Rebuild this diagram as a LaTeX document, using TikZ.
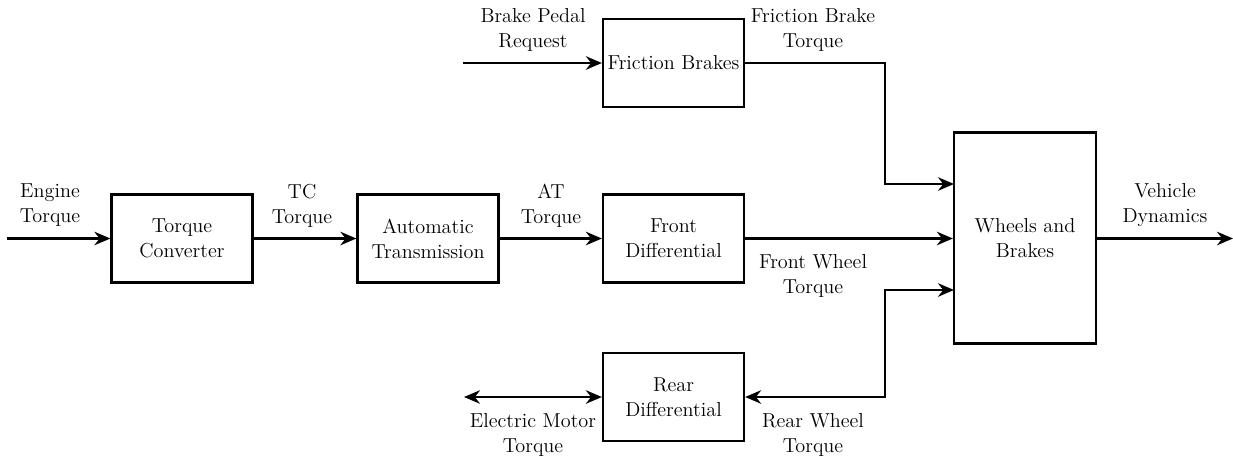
\documentclass[tikz,border=0pt]{standalone}
\usetikzlibrary{arrows.meta}

\begin{document}
\begin{tikzpicture}[x=0.02cm, y=-0.02cm,
  blk/.style={draw, line width=1.3pt, minimum width=2.82cm, minimum height=1.76cm,
              align=center, inner sep=0pt, font=\fontsize{11.5}{14.2}\selectfont},
  arr/.style={-{Stealth[length=0.32cm, width=0.27cm]}, line width=1.3pt},
  darr/.style={{Stealth[length=0.32cm, width=0.27cm]}-{Stealth[length=0.32cm, width=0.27cm]}, line width=1.3pt},
  lbl/.style={align=center, inner sep=0pt, font=\fontsize{11.5}{14.2}\selectfont},
]
\useasboundingbox (0,0) rectangle (1233,460);

% ---- Main drive line ----
\node[blk] (tc) at (182, 238.5) {Torque\\Converter};
\node[blk] (at) at (428, 238.5) {Automatic\\Transmission};
\node[blk] (fd) at (673.5, 238.5) {Front\\Differential};
\node[blk, minimum width=2.84cm, minimum height=4.22cm] (wb) at (1025, 238)
  {Wheels and\\Brakes};

% ---- Brakes and rear axle ----
\node[blk] (fb) at (673.5, 63) {Friction Brakes};
\node[blk] (rd) at (673.5, 397) {Rear\\Differential};

% ---- Free ends ----
\coordinate (ein) at (7, 238.5);
\coordinate (bin) at (463, 63);
\coordinate (emo) at (464, 397);
\coordinate (vout) at (1233, 238.5);
\coordinate (wbfb) at (954, 184);
\coordinate (wbrd) at (954, 290);

\draw[arr] (ein) -- (tc);
\draw[arr] (tc) -- (at);
\draw[arr] (at) -- (fd);
\draw[arr] (fd.east) -- (fd.east -| wb.west);
\draw[arr] (wb.east |- vout) -- (vout);
\draw[arr] (bin) -- (fb);
\draw[arr] (fb.east) -- ++(140,0) |- (wbfb);
\draw[darr] (rd.east) -- ++(140,0) |- (wbrd);
\draw[darr] (emo) -- (rd);

% ---- Signal labels ----
\node[lbl] (leng) at (50, 205.5) {Engine\\Torque};
\node[lbl] (ltc) at (302, 205.5) {TC\\Torque};
\node[lbl] (lat) at (551, 205.5) {AT\\Torque};
\node[lbl] (lbp) at (533, 30) {Brake Pedal\\Request};
\node[lbl] (lfb) at (813, 30) {Friction Brake\\Torque};
\node[lbl] (lfw) at (813, 275.5) {Front Wheel\\Torque};
\node[lbl] (lvd) at (1165, 205.5) {Vehicle\\Dynamics};
\node[lbl] (lem) at (533, 434.5) {Electric Motor\\Torque};
\node[lbl] (lrw) at (813, 434.5) {Rear Wheel\\Torque};

\end{tikzpicture}
\end{document}
